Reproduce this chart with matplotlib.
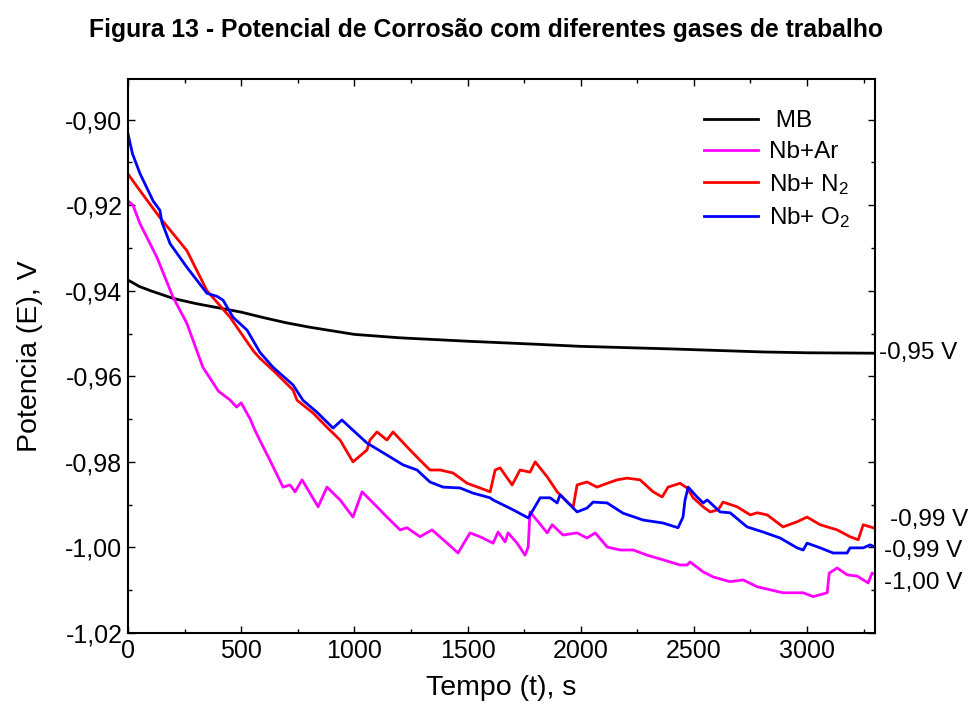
import matplotlib
matplotlib.use("Agg")
import matplotlib.pyplot as plt
from matplotlib.ticker import MultipleLocator, FuncFormatter

plt.rcParams['font.family'] = ['Liberation Sans', 'DejaVu Sans']
plt.rcParams['mathtext.fontset'] = 'custom'
plt.rcParams['mathtext.rm'] = 'Liberation Sans'
plt.rcParams['mathtext.it'] = 'Liberation Sans'

# ---- data ----
mb_t = [0, 50, 100, 200, 300, 400, 500, 600, 700, 800, 1000, 1200, 1500, 1800, 2000, 2400, 2800, 3000, 3300]
mb_v = [-0.9375, -0.939, -0.940, -0.9418, -0.943, -0.944, -0.945, -0.9463, -0.9475, -0.9485, -0.9502,
        -0.9510, -0.9518, -0.9525, -0.9530, -0.9536, -0.9543, -0.9545, -0.9546]

ar_t = [0, 22, 53, 128, 199, 260, 331, 400, 450, 480, 500, 540, 560, 583, 627, 685, 716, 738, 769, 840, 879, 937, 994,
        1034, 1100, 1144, 1202, 1233, 1290, 1343, 1410, 1458, 1511, 1555, 1613, 1635, 1666, 1679, 1719,
        1754, 1768, 1776, 1812, 1852, 1874, 1922, 1984, 2028, 2064, 2117, 2174, 2232, 2293, 2364, 2395,
        2439, 2470, 2483, 2541, 2585, 2660, 2718, 2780, 2837, 2894, 2983, 3027, 3089, 3098, 3133, 3177,
        3221, 3270, 3287, 3300]
ar_v = [-0.9190, -0.9200, -0.9243, -0.9322, -0.9415, -0.9476, -0.9579, -0.9635, -0.9655, -0.9672, -0.9662, -0.9700,
        -0.9725, -0.9750, -0.9796, -0.9859, -0.9854, -0.9870, -0.9842, -0.9905, -0.9859, -0.9889, -0.9929,
        -0.9870, -0.9905, -0.9929, -0.9959, -0.9954, -0.9975, -0.9959, -0.9990, -1.0013, -0.9966, -0.9975,
        -0.9990, -0.9964, -0.9987, -0.9966, -0.9990,
        -1.0018, -0.9999, -0.9917, -0.9940, -0.9966, -0.9947, -0.9971, -0.9966, -0.9978, -0.9966, -0.9999,
        -1.0006, -1.0006, -1.0018, -1.0029, -1.0034,
        -1.0041, -1.0041, -1.0034, -1.0057, -1.0069, -1.0080, -1.0076, -1.0092, -1.0099, -1.0106, -1.0106,
        -1.0115, -1.0106, -1.0060, -1.0048, -1.0064,
        -1.0067, -1.0083, -1.0060, -1.0062]

n2_t = [0, 53, 141, 260, 349, 451, 553, 583, 641, 729, 747, 818, 879, 937, 994, 1056, 1069, 1100, 1144,
        1171, 1233, 1290, 1334, 1379, 1436, 1498, 1555, 1600, 1622, 1644, 1697, 1732, 1776, 1799, 1852,
        1896, 1953, 1967, 1984, 2028, 2072, 2117, 2161, 2205, 2262, 2320, 2360, 2386, 2439, 2470, 2497,
        2541, 2572, 2607, 2629, 2691, 2749, 2780, 2824, 2894, 2956, 3000, 3058, 3133, 3190, 3226, 3248,
        3292, 3300]
n2_v = [-0.9127, -0.9166, -0.9229, -0.9306, -0.9400, -0.9462, -0.9540, -0.9558, -0.9586, -0.9632, -0.9656,
        -0.9686, -0.9719, -0.9749, -0.9800, -0.9772, -0.9749, -0.9730, -0.9749,
        -0.9730, -0.9765, -0.9796, -0.9819, -0.9819, -0.9826, -0.9850, -0.9861, -0.9870, -0.9819, -0.9814,
        -0.9854, -0.9819, -0.9824, -0.9800, -0.9835,
        -0.9870, -0.9900, -0.9905, -0.9854, -0.9847, -0.9859, -0.9850, -0.9842, -0.9838, -0.9842, -0.9870,
        -0.9882, -0.9859, -0.9850, -0.9861, -0.9884,
        -0.9905, -0.9917, -0.9912, -0.9894, -0.9905, -0.9924, -0.9919, -0.9924, -0.9952, -0.9940, -0.9929,
        -0.9947, -0.9959, -0.9975, -0.9982, -0.9947,
        -0.9954, -0.9956]

o2_t = [0, 20, 53, 111, 141, 150, 186, 260, 349, 393, 420, 464, 526, 583, 641, 729, 773, 835, 906, 945,
        994, 1056, 1144, 1215, 1277, 1334, 1392, 1467, 1524, 1600, 1613, 1701, 1768, 1790, 1821, 1865,
        1896, 1909, 1984, 2028, 2055, 2117, 2187, 2276, 2364, 2430, 2452, 2461, 2475, 2514, 2541, 2559,
        2616, 2660, 2735, 2806, 2881, 2956, 2983, 3000, 3058, 3115, 3177, 3190, 3248, 3279, 3300]
o2_v = [-0.9033, -0.9080, -0.9126, -0.9190, -0.9212, -0.9240, -0.9290, -0.9345, -0.9406, -0.9413, -0.9422,
        -0.9462, -0.9492, -0.9544, -0.9579, -0.9620, -0.9656, -0.9684, -0.9721, -0.9702,
        -0.9726, -0.9756, -0.9784, -0.9807, -0.9819, -0.9847, -0.9859, -0.9861, -0.9873, -0.9884, -0.9889,
        -0.9912, -0.9931, -0.9912, -0.9884, -0.9884,
        -0.9896, -0.9877, -0.9917, -0.9908, -0.9894, -0.9896, -0.9920, -0.9936, -0.9943, -0.9954, -0.9929,
        -0.9889, -0.9859, -0.9882, -0.9896, -0.9889,
        -0.9917, -0.9919, -0.9952, -0.9964, -0.9978, -1.0001, -1.0006, -0.9990, -1.0001, -1.0013, -1.0013,
        -1.0001, -1.0001, -0.9994, -0.9999]

labels = [' MB', 'Nb+Ar', 'Nb+ N$_2$', 'Nb+ O$_2$']
colors = ['#000000', '#ff00ff', '#ff0000', '#0000ff']
end_labels = ['-0,95 V', '-0,99 V', '-0,99 V', '-1,00 V']

fig = plt.figure(figsize=(9.71, 7.02), dpi=100)
ax = fig.add_axes([0.1318, 0.0983, 0.7693, 0.7892])

series = [(mb_t, mb_v), (ar_t, ar_v), (n2_t, n2_v), (o2_t, o2_v)]
for (t, v), lab, c in zip(series, labels, colors):
    ax.plot(t, v, color=c, lw=2.0, label=lab)

ax.set_xlim(0, 3300)
ax.set_ylim(-1.02, -0.8905)
ax.xaxis.set_major_locator(MultipleLocator(500))
ax.xaxis.set_minor_locator(MultipleLocator(250))
ax.yaxis.set_major_locator(MultipleLocator(0.02))
ax.yaxis.set_minor_locator(MultipleLocator(0.01))
ax.yaxis.set_major_formatter(FuncFormatter(lambda v, p: f"{v:.2f}".replace('.', ',')))
ax.tick_params(which='both', direction='in', top=True, right=True, labelsize=18, width=1.0, pad=4)
ax.tick_params(which='major', length=5)
ax.tick_params(which='minor', length=3)
for s in ax.spines.values():
    s.set_linewidth(1.5)

ax.set_xlabel('Tempo (t), s', fontsize=20.5, labelpad=9)
ax.set_ylabel('Potencia (E), V', fontsize=20.5, labelpad=16)

leg = ax.legend(loc='upper right', bbox_to_anchor=(0.99, 0.974), frameon=False, fontsize=17.5,
                handlelength=2.2, handletextpad=0.45, labelspacing=0.36, borderaxespad=0.3)

# end-value annotations outside the right axis
ann_y = [-0.9545, -0.9937, -1.0008, -1.0083]
ann_dx = [0.006, 0.02, 0.012, 0.012]
for lab, yv, dx in zip(end_labels, ann_y, ann_dx):
    ax.text(1.0 + dx, yv, lab, transform=ax.get_yaxis_transform(), fontsize=17.5,
            va='center', ha='left', clip_on=False)

fig.text(0.5, 0.957, 'Figura 13 - Potencial de Corrosão com diferentes gases de trabalho',
         ha='center', va='center', fontsize=17.8, fontweight='bold')

fig.savefig('out.png', dpi=100)
